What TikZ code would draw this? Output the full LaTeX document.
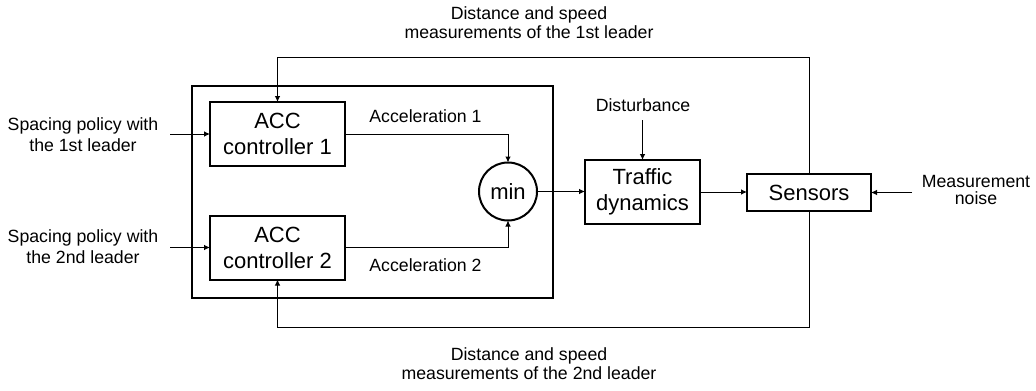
\documentclass[tikz,border=0pt]{standalone}
\usepackage{fontspec}
\setmainfont{Liberation Sans}
\usetikzlibrary{arrows.meta}
\begin{document}
\begin{tikzpicture}[x=0.5pt,y=-0.5pt,
  blk/.style={draw,line width=1pt,inner sep=0pt,outer sep=0pt,align=center,font=\fontsize{11}{13}\selectfont},
  lbl/.style={align=center,inner sep=0pt,outer sep=0pt},
  arr/.style={line width=0.5pt,-{Latex[length=3pt,width=2.8pt]}},
  frame/.style={draw,line width=1pt}]
\useasboundingbox (0,0) rectangle (1036,390);
% outer frame
\draw[frame] (192,86) rectangle (553,298);
% blocks
\node[blk,minimum width=67.5pt,minimum height=32pt] (acc1) at (277.5,134) {ACC\\controller 1};
\node[blk,minimum width=67.5pt,minimum height=32pt] (acc2) at (277.5,247.5) {ACC\\controller 2};
\node[blk,circle,minimum size=29pt] (min) at (508,191.5) {min};
\node[blk,minimum width=57.5pt,minimum height=32pt] (traf) at (642.5,192) {Traffic\\dynamics};
\node[blk,minimum width=62pt,minimum height=18.5pt] (sens) at (809,192.5) {Sensors};
% labels
\node[lbl,font=\fontsize{8.85}{10.5}\selectfont] (sp1) at (83,135) {Spacing policy with\\the 1st leader};
\node[lbl,font=\fontsize{8.85}{10.5}\selectfont] (sp2) at (83,247) {Spacing policy with\\the 2nd leader};
\node[lbl,font=\fontsize{8.85}{10.5}\selectfont] (a1) at (425.5,116.5) {Acceleration 1};
\node[lbl,font=\fontsize{8.85}{10.5}\selectfont] (a2) at (425.5,265.5) {Acceleration 2};
\node[lbl,font=\fontsize{8.85}{10.5}\selectfont] (dist) at (643,105.5) {Disturbance};
\node[lbl,font=\fontsize{8.85}{8.5}\selectfont] (noise) at (976,190) {Measurement\\noise};
\node[lbl,font=\fontsize{8.85}{9.5}\selectfont] (top) at (529,23) {Distance and speed\\measurements of the 1st leader};
\node[lbl,font=\fontsize{8.85}{9.5}\selectfont] (bot) at (529,364) {Distance and speed\\measurements of the 2nd leader};
% free ends
\coordinate (s1) at (170,134);
\coordinate (s2) at (170,247.5);
\coordinate (d1) at (642.5,120);
\coordinate (n1) at (912,192.5);
% connectors
\draw[arr] (s1) -- (acc1.west);
\draw[arr] (s2) -- (acc2.west);
\draw[arr] (acc1.east) -| (min.north);
\draw[arr] (acc2.east) -| (min.south);
\draw[arr] (min.east) -- (min.east -| traf.west);
\draw[arr] (d1) -- (traf.north);
\draw[arr] (traf.east) -- (traf.east -| sens.west);
\draw[arr] (n1) -- (sens.east);
\draw[arr] (sens.north) |- (acc1.north |- 0,58) -- (acc1.north);
\draw[arr] (sens.south) |- (acc2.south |- 0,327) -- (acc2.south);
\end{tikzpicture}
\end{document}
